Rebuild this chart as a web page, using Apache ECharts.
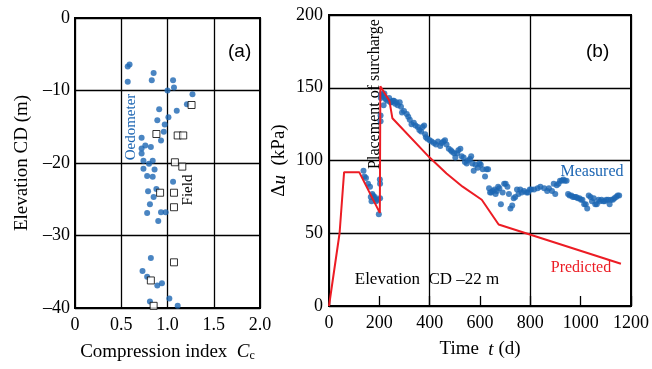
<!DOCTYPE html>
<html><head><meta charset="utf-8">
<script src="https://cdn.jsdelivr.net/npm/echarts@6/dist/echarts.min.js"></script>
<style>html,body{margin:0;padding:0;background:#fff}#c{width:652px;height:369px}</style>
</head><body><div id="c"></div>
<script>
// ---- Panel (a): compression index vs elevation ----
const oedCc   = [0.57,0.59,0.57,0.85,0.83,1.06,1.07,1.00,1.27,1.21,0.91,1.10,0.89,1.01,0.97,0.96,0.93,0.72,0.76,0.82,0.72,0.72,0.74,0.84,0.80,0.74,0.86,0.78,0.84,1.06,0.79,0.88,0.85,0.81,0.78,0.93,0.98,0.90,0.82,0.73,0.78,0.89,0.94,0.81,1.02,1.11];
const oedElev = [-6.7,-6.4,-8.8,-7.6,-8.6,-8.6,-9.6,-10.0,-10.5,-11.9,-12.6,-12.8,-14.1,-13.7,-14.7,-15.7,-16.9,-16.5,-17.6,-17.8,-18.0,-18.7,-19.7,-19.7,-20.1,-20.8,-20.9,-21.8,-21.9,-22.6,-23.9,-23.6,-24.7,-25.7,-26.9,-26.8,-26.8,-28.0,-33.1,-34.9,-35.7,-36.9,-36.6,-39.1,-38.7,-39.7];
const fieldCc   = [1.26,0.88,1.11,1.17,1.08,1.16,0.92,1.07,1.07,1.07,0.82,0.85];
const fieldElev = [-12.0,-16.0,-16.2,-16.2,-19.9,-20.5,-24.1,-24.1,-26.1,-33.7,-36.2,-39.7];
const ccTicks   = [0, 0.5, 1.0, 1.5, 2.0];
const elevTicks = [0, -10, -20, -30, -40];

// ---- Panel (b): excess pore pressure vs time ----
const predT  = [0, 42, 60, 120, 202, 204, 240, 252, 400, 467, 531, 607, 674, 1160];
const predDu = [0, 50, 92, 92, 64, 151, 141, 129, 102, 91, 82, 73, 56, 29];
const measT  = [137,141,147,155,163,166,169,172,175,180,182,187,192,198,202,203,203,
  205,205,206,207,210,213,217,220,224,226,232,239,244,248,254,258,263,268,273,281,286,290,298,
  309,315,321,328,337,344,353,359,366,372,378,382,385,391,400,408,417,425,433,442,448,455,461,467,
  476,484,489,497,502,509,514,522,527,535,540,547,552,560,565,570,575,582,591,598,603,611,620,626,632,
  636,640,645,651,658,662,667,672,677,683,690,696,702,709,715,721,728,734,740,747,753,760,766,775,785,791,
  798,804,815,829,840,855,867,874,886,893,899,905,912,918,925,931,937,944,950,956,963,969,976,982,988,995,
  1001,1007,1014,1020,1026,1032,1039,1045,1052,1058,1064,1071,1077,1083,1090,1096,1102,1109,1115,1121,1128,1134,1141,1147,1153];
const measDu = [93,89,88,84,82,75,72,77,76,74,75,72,73,63,87,84,74,
  131,127,143,145,146,144,138,146,143,142,141,143,140,140,141,141,139,140,138,140,137,133,134,
  132,130,128,125,126,124,123,121,120,123,124,118,116,115,114,113,112,111,113,110,112,113,114,111,
  108,107,106,105,102,105,107,108,103,102,99,98,100,101,103,98,93,97,95,98,97,94,89,94,94,
  81,78,78,79,80,77,79,82,81,70,78,84,84,82,77,67,69,74,75,80,77,80,78,79,78,78,
  80,80,80,81,82,81,79,81,79,84,77,83,84,86,86,87,86,86,77,76,76,75,75,75,74,74,
  73,73,70,70,67,76,75,72,74,70,70,73,72,73,72,72,73,73,70,73,73,74,75,76,76];
const timeTicks = [0, 200, 400, 600, 800, 1000, 1200];
const duTicks   = [0, 50, 100, 150, 200];

const zip = (a, b) => a.map((v, i) => [v, b[i]]);
const SERIF = 'Liberation Serif';
const BLUE = '#1d66b3';
const RED = '#ec1c24';
const dash = v => v < 0 ? '\u2013' + (-v) : String(v);

const lblStyle = {color: '#000', fontFamily: SERIF, fontSize: 18};
const gridLine = {show: true, lineStyle: {color: '#000', width: 1.3}};
const axLine = {show: true, onZero: false, lineStyle: {color: '#000', width: 2}};

const chart = echarts.init(document.getElementById('c'), null, {renderer: 'canvas'});
chart.setOption({
  animation: false,
  backgroundColor: '#fff',
  grid: [
    {left: 75, top: 18, width: 185, height: 290, show: true, borderColor: '#000', borderWidth: 2, containLabel: false},
    {left: 329, top: 15, width: 313, height: 291, show: true, borderColor: '#000', borderWidth: 2, containLabel: false}
  ],
  xAxis: [
    {gridIndex: 0, type: 'value', min: ccTicks[0], max: ccTicks[ccTicks.length-1], interval: 0.5,
     axisLine: axLine, axisTick: {show: false}, splitLine: gridLine,
     axisLabel: Object.assign({margin: 8, formatter: v => v === 0 ? '0' : v.toFixed(1)}, lblStyle),
     name: '{n|Compression index  }{i|C}{s|c}', nameLocation: 'middle', nameGap: 34,
     nameTextStyle: {rich: {
       n: {fontFamily: SERIF, fontSize: 19, color: '#000'},
       i: {fontFamily: SERIF, fontSize: 19, fontStyle: 'italic', color: '#000'},
       s: {fontFamily: SERIF, fontSize: 12, color: '#000', verticalAlign: 'bottom', padding: [8, 0, 0, 0]}
     }}},
    {gridIndex: 1, type: 'value', min: timeTicks[0], max: timeTicks[timeTicks.length-1], interval: 400,
     axisLine: axLine, axisTick: {show: false}, splitLine: gridLine, axisLabel: {show: false}},
    {gridIndex: 1, type: 'value', min: timeTicks[0], max: timeTicks[timeTicks.length-1], interval: 200, position: 'bottom',
     axisLine: axLine, axisTick: {show: true, inside: true, length: 10, lineStyle: {color: '#000', width: 1.3}},
     splitLine: {show: false},
     axisLabel: Object.assign({margin: 8, formatter: v => String(v)}, lblStyle),
     name: '{n|Time  }{i|t}{n| (d)}', nameLocation: 'middle', nameGap: 34,
     nameTextStyle: {rich: {
       n: {fontFamily: SERIF, fontSize: 19, color: '#000'},
       i: {fontFamily: SERIF, fontSize: 19, fontStyle: 'italic', color: '#000'}
     }}}
  ],
  yAxis: [
    {gridIndex: 0, type: 'value', min: elevTicks[elevTicks.length-1], max: elevTicks[0], interval: 10,
     axisLine: axLine, axisTick: {show: false}, splitLine: gridLine,
     axisLabel: Object.assign({margin: 5, formatter: dash}, lblStyle),
     name: 'Elevation CD (m)', nameLocation: 'middle', nameGap: 43,
     nameTextStyle: {fontFamily: SERIF, fontSize: 19, color: '#000'}},
    {gridIndex: 1, type: 'value', min: duTicks[0], max: duTicks[duTicks.length-1], interval: 50,
     axisLine: axLine, axisTick: {show: false}, splitLine: gridLine,
     axisLabel: Object.assign({margin: 6, formatter: v => String(v)}, lblStyle),
     name: '{n|\u0394}{i|u}{n|  (kPa)}', nameLocation: 'middle', nameGap: 40,
     nameTextStyle: {rich: {
       n: {fontFamily: SERIF, fontSize: 19, color: '#000'},
       i: {fontFamily: SERIF, fontSize: 19, fontStyle: 'italic', color: '#000'}
     }}}
  ],
  series: [
    {type: 'scatter', xAxisIndex: 0, yAxisIndex: 0, data: zip(oedCc, oedElev),
     symbol: 'circle', symbolSize: 6, itemStyle: {color: BLUE}},
    {type: 'scatter', xAxisIndex: 0, yAxisIndex: 0, data: zip(fieldCc, fieldElev),
     symbol: 'rect', symbolSize: 7, itemStyle: {color: '#fff', borderColor: '#000', borderWidth: 1}},
    {type: 'line', xAxisIndex: 1, yAxisIndex: 1, data: zip(predT, predDu),
     symbol: 'none', lineStyle: {color: RED, width: 2}},
    {type: 'scatter', xAxisIndex: 1, yAxisIndex: 1, data: zip(measT, measDu),
     symbol: 'circle', symbolSize: 6, itemStyle: {color: BLUE}}
  ],
  graphic: [
    {type: 'text', left: 228, top: 42, style: {text: '(a)', font: '19px "Liberation Sans"', fill: '#000'}},
    {type: 'text', left: 586, top: 42, style: {text: '(b)', font: '19px "Liberation Sans"', fill: '#000'}},
    {type: 'text', x: 131, y: 127, rotation: Math.PI/2,
     style: {text: 'Oedometer', font: '15px "Liberation Serif"', fill: BLUE, align: 'center', verticalAlign: 'middle'}},
    {type: 'text', x: 188, y: 190, rotation: Math.PI/2,
     style: {text: 'Field', font: '15px "Liberation Serif"', fill: '#000', align: 'center', verticalAlign: 'middle'}},
    {type: 'text', x: 375, y: 94, rotation: Math.PI/2,
     style: {text: 'Placement of surcharge', font: '16px "Liberation Serif"', fill: '#000', align: 'center', verticalAlign: 'middle'}},
    {type: 'text', x: 592, y: 172, style: {text: 'Measured', font: '16px "Liberation Serif"', fill: BLUE, align: 'center', verticalAlign: 'middle'}},
    {type: 'text', x: 581, y: 268, style: {text: 'Predicted', font: '16px "Liberation Serif"', fill: RED, align: 'center', verticalAlign: 'middle'}},
    {type: 'text', x: 427, y: 280, style: {text: 'Elevation  CD \u201322 m', font: '17px "Liberation Serif"', fill: '#000', align: 'center', verticalAlign: 'middle'}}
  ]
});
</script></body></html>
